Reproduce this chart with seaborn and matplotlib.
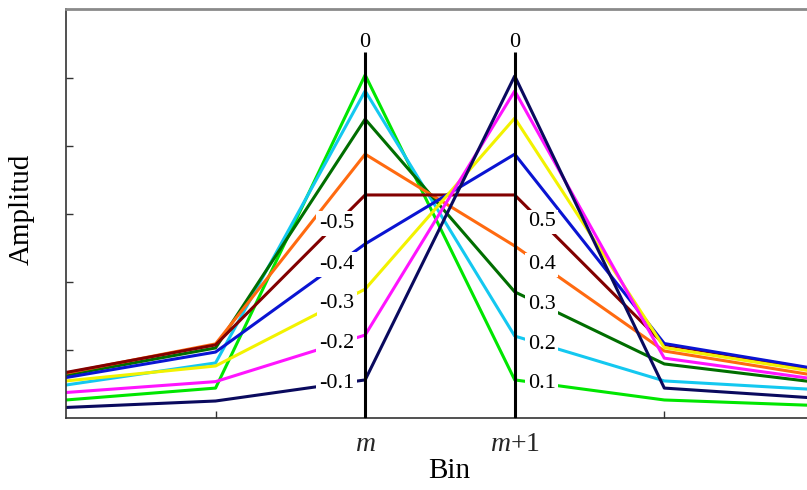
import numpy as np
import pandas as pd
import matplotlib
matplotlib.use("Agg")
import matplotlib.pyplot as plt
import seaborn as sns

# Bin positions relative to bin m
bins = [-2, -1, 0, 1, 2, 3]

# Amplitude at each bin for a tone located between bin m and m+1
offsets = ["0.1", "0.2", "0.3", "0.4", "0.5", "0.6", "0.7", "0.8", "0.9"]
amp_01 = [0.053, 0.088, 1.009, 0.112, 0.053, 0.037]
amp_02 = [0.097, 0.162, 0.962, 0.241, 0.109, 0.084]
amp_03 = [0.126, 0.206, 0.879, 0.371, 0.159, 0.106]
amp_04 = [0.132, 0.218, 0.776, 0.506, 0.197, 0.126]
amp_05 = [0.134, 0.215, 0.656, 0.656, 0.216, 0.144]
amp_06 = [0.119, 0.194, 0.512, 0.776, 0.219, 0.146]
amp_07 = [0.109, 0.153, 0.379, 0.882, 0.207, 0.137]
amp_08 = [0.075, 0.107, 0.244, 0.962, 0.176, 0.115]
amp_09 = [0.031, 0.050, 0.112, 1.006, 0.088, 0.059]
amplitudes = [amp_01, amp_02, amp_03, amp_04, amp_05, amp_06, amp_07, amp_08, amp_09]

colors = ["#00e600", "#14c8f0", "#006e00", "#ff6a10", "#820000",
          "#0a14d2", "#f2f200", "#ff14ff", "#0a0a5e"]

# Offset labels measured from bin m (left) and from bin m+1 (right)
left_labels = {"0.5": "-0.5", "0.6": "-0.4", "0.7": "-0.3", "0.8": "-0.2", "0.9": "-0.1"}
right_labels = {"0.5": "0.5", "0.4": "0.4", "0.3": "0.3", "0.2": "0.2", "0.1": "0.1"}
left_label_x = -0.19
right_label_x = 1.18

tick_pos = [-1, 0, 1, 2]
tick_text = ["", "$m$", "$m$+1", ""]

df = pd.DataFrame({
    "Bin": np.tile(bins, len(offsets)),
    "Amplitud": np.concatenate(amplitudes),
    "offset": np.repeat(offsets, len(bins)),
})

sns.set_theme(style="white")
plt.rcParams["font.family"] = ["Liberation Serif", "DejaVu Serif"]
plt.rcParams["mathtext.fontset"] = "custom"
plt.rcParams["mathtext.it"] = "Liberation Serif:italic"
plt.rcParams["mathtext.rm"] = "Liberation Serif"

fig = plt.figure(figsize=(8.07, 4.90), dpi=100)
ax = fig.add_axes([66 / 807, 72 / 490, 741 / 807, 409 / 490])

palette = dict(zip(offsets, colors))
sns.lineplot(data=df, x="Bin", y="Amplitud", hue="offset", palette=palette,
             hue_order=offsets, linewidth=2.2, legend=False, sort=False,
             estimator=None, ax=ax, zorder=2)

# Bin m and m+1 markers
ax.vlines([0, 1], 0, 1.076, color="black", linewidth=2.2, zorder=3)
for xb in (0, 1):
    ax.text(xb, 1.105, "0", ha="center", va="center", fontsize=16, color="black")

# Offset labels sitting on their curves
for off, amp in zip(offsets, amplitudes):
    if off in left_labels:
        yv = np.interp(left_label_x, bins, amp)
        ax.text(left_label_x, yv, left_labels[off], ha="center", va="center",
                fontsize=16, color="black", zorder=4,
                bbox=dict(boxstyle="square,pad=0.12", fc="white", ec="none"))
    if off in right_labels:
        yv = np.interp(right_label_x, bins, amp)
        ax.text(right_label_x, yv, right_labels[off], ha="center", va="center",
                fontsize=16, color="black", zorder=4,
                bbox=dict(boxstyle="square,pad=0.12", fc="white", ec="none"))

ax.set_xlim(-2, 2.954)
ax.set_ylim(0, 1.203)
ax.set_xticks(tick_pos)
ax.set_xticklabels(tick_text, fontsize=20)
ax.set_yticks([0.2, 0.4, 0.6, 0.8, 1.0])
ax.set_yticklabels([])
ax.tick_params(axis="both", direction="in", length=5, width=1, color="#333333",
               bottom=True, left=True)
ax.tick_params(axis="x", pad=10)

for side in ("left", "bottom"):
    ax.spines[side].set_color("#333333")
    ax.spines[side].set_linewidth(1.2)
ax.spines["top"].set_color("#8a8a8a")
ax.spines["top"].set_linewidth(2.0)
ax.spines["right"].set_visible(False)

ax.set_xlabel("Bin", fontsize=21, color="black")
ax.set_ylabel("Amplitud", fontsize=21, color="black")
ax.xaxis.set_label_coords(0.517, -0.098)
ax.yaxis.set_label_coords(-0.042, 0.51)

fig.savefig("out.png", dpi=100)
